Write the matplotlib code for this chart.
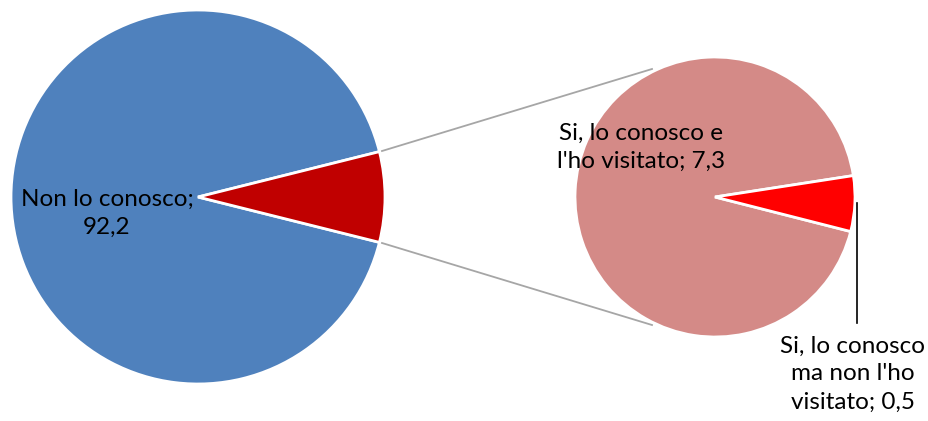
import matplotlib
matplotlib.use("Agg")
import matplotlib.pyplot as plt

# Main pie: share of respondents
main_labels = ["Non lo conosco", "Si, lo conosco"]
main_values = [92.2, 7.8]
main_colors = ["#4F81BD", "#C00000"]

# Breakdown of the "Si, lo conosco" slice
sub_labels = ["Si, lo conosco e\nl'ho visitato", "Si, lo conosco\nma non l'ho\nvisitato"]
sub_values = [7.3, 0.5]
sub_colors = ["#D48A87", "#FF0000"]

W, H = 929, 421
fig = plt.figure(figsize=(W / 100, H / 100), dpi=100)
ax = fig.add_axes([0, 0, 1, 1])

font = ["Lato", "DejaVu Sans"]

def py(y):
    return H - y

# Left pie, small slice centred on the right-hand side
c1, r1 = (198, py(197)), 187
small_deg = 360 * main_values[1] / sum(main_values)
ax.pie(main_values, colors=main_colors, center=c1, radius=r1,
       startangle=small_deg / 2, counterclock=True,
       wedgeprops=dict(edgecolor="white", linewidth=2), frame=True)

# Right pie, breakdown of the small slice
c2, r2 = (715, py(197)), 140
ax.pie(sub_values, colors=sub_colors, center=c2, radius=r2,
       startangle=8.8, counterclock=True,
       wedgeprops=dict(edgecolor="white", linewidth=2), frame=True)

ax.set_xlim(0, W)
ax.set_ylim(0, H)
ax.set_aspect("equal")
ax.axis("off")

# Connector lines between the two pies
ax.plot([382, 652], [py(151), py(69)], color="#A6A6A6", lw=1.3)
ax.plot([382, 652], [py(243), py(325)], color="#A6A6A6", lw=1.3)

# Leader line for the smallest slice
ax.plot([857, 857], [py(203), py(323)], color="black", lw=1.2)

def fmt(v):
    return f"{v:.1f}".replace(".", ",")

txt = dict(fontsize=17.5, family=font, ha="center", va="center",
           linespacing=1.42, color="black")
ax.text(107, py(213), f"{main_labels[0]};\n{fmt(main_values[0])}", **txt)
ax.text(641, py(147), f"{sub_labels[0]}; {fmt(sub_values[0])}", **txt)
ax.text(853, py(374), f"{sub_labels[1]}; {fmt(sub_values[1])}", **txt)

fig.savefig("out.png", dpi=100)
